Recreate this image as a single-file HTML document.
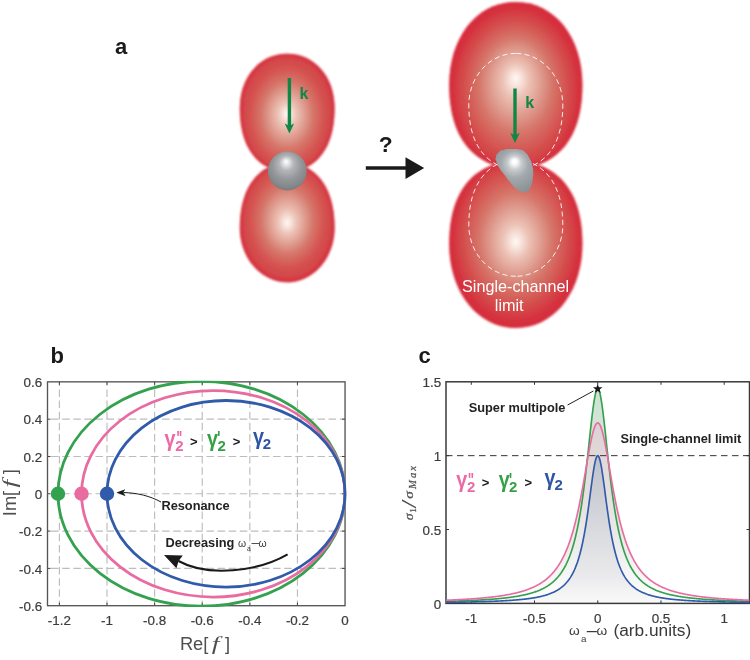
<!DOCTYPE html>
<html><head><meta charset="utf-8"><title>Figure</title>
<style>
html,body{margin:0;padding:0;background:#fff;}
body{width:750px;height:660px;overflow:hidden;font-family:"Liberation Sans",sans-serif;}
svg{display:block;}
text{font-family:"Liberation Sans",sans-serif;}
.b{font-weight:bold;}
.tick{font-size:13.4px;fill:#3c3c3c;stroke:#3c3c3c;stroke-width:0.2px;}
.ser{font-family:"Liberation Serif",serif;}
.gam{font-family:"DejaVu Sans","Liberation Sans",sans-serif;font-weight:bold;}
</style></head><body>
<svg width="750" height="660" viewBox="0 0 750 660">
<defs>
<radialGradient id="gsph" cx="0.5" cy="0.42" r="0.62" fx="0.47" fy="0.25">
<stop offset="0" stop-color="#ffffff"/><stop offset="0.08" stop-color="#eeeff0"/><stop offset="0.3" stop-color="#b4b7b9"/><stop offset="0.6" stop-color="#94979a"/><stop offset="0.85" stop-color="#83878a"/><stop offset="1" stop-color="#74787b"/>
</radialGradient>
<filter id="soft" x="-10%" y="-10%" width="120%" height="120%"><feGaussianBlur stdDeviation="0.8"/></filter>
<filter id="rim" x="-20%" y="-20%" width="140%" height="140%"><feGaussianBlur stdDeviation="1.7"/></filter>
<filter id="rim2" x="-20%" y="-20%" width="140%" height="140%"><feGaussianBlur stdDeviation="2.2"/></filter>
<radialGradient id="gl1" gradientUnits="userSpaceOnUse" cx="287.2" cy="116.2" r="49" fx="287.2" fy="114.51" gradientTransform="translate(0,-34.86) scale(1,1.3)"><stop offset="0" stop-color="#fffaf6"/><stop offset="0.07" stop-color="#f9e6df"/><stop offset="0.19" stop-color="#ecc2b6"/><stop offset="0.375" stop-color="#de9a8d"/><stop offset="0.53" stop-color="#d6766a"/><stop offset="0.76" stop-color="#d4524f"/><stop offset="0.93" stop-color="#d44549"/><stop offset="1" stop-color="#d53a42"/></radialGradient>
<clipPath id="cl1"><path d="M287.2,53.8 C259.94,53.8 239.8,76.84 239.8,108 C239.8,165 275.2,172 287.2,172 C299.2,172 334.6,165 334.6,108 C334.6,76.84 314.45,53.8 287.2,53.8Z"/></clipPath>
<radialGradient id="gl2" gradientUnits="userSpaceOnUse" cx="287.2" cy="218.6" r="49" fx="287.2" fy="221.98" gradientTransform="translate(0,-65.58) scale(1,1.3)"><stop offset="0" stop-color="#fffaf6"/><stop offset="0.07" stop-color="#f9e6df"/><stop offset="0.19" stop-color="#ecc2b6"/><stop offset="0.375" stop-color="#de9a8d"/><stop offset="0.53" stop-color="#d6766a"/><stop offset="0.76" stop-color="#d4524f"/><stop offset="0.93" stop-color="#d44549"/><stop offset="1" stop-color="#d53a42"/></radialGradient>
<clipPath id="cl2"><path d="M287.2,282.3 C261.02,282.3 239.8,257.99 239.8,228 C239.8,166 281.2,162 287.2,162 C293.2,162 334.6,166 334.6,228 C334.6,257.99 313.38,282.3 287.2,282.3Z"/></clipPath>
<radialGradient id="gr1" gradientUnits="userSpaceOnUse" cx="515.8" cy="91.7" r="69" fx="515.8" fy="81.16" gradientTransform="translate(0,-27.51) scale(1,1.3)"><stop offset="0" stop-color="#fffaf6"/><stop offset="0.07" stop-color="#f9e6df"/><stop offset="0.19" stop-color="#ecc2b6"/><stop offset="0.375" stop-color="#de9a8d"/><stop offset="0.53" stop-color="#d6766a"/><stop offset="0.76" stop-color="#d44d4c"/><stop offset="0.91" stop-color="#d5343f"/><stop offset="1" stop-color="#d62c3c"/></radialGradient>
<clipPath id="cr1"><path d="M515.8,2 C476.84,2 449.2,37.28 449.2,85 C449.2,162.5 500.8,169 515.8,169 C530.8,169 582.4,162.5 582.4,85 C582.4,37.28 554.76,2 515.8,2Z"/></clipPath>
<radialGradient id="gr2" gradientUnits="userSpaceOnUse" cx="515.8" cy="238.3" r="69" fx="515.8" fy="241.15" gradientTransform="translate(0,-71.49) scale(1,1.3)"><stop offset="0" stop-color="#fffaf6"/><stop offset="0.07" stop-color="#f9e6df"/><stop offset="0.19" stop-color="#ecc2b6"/><stop offset="0.375" stop-color="#de9a8d"/><stop offset="0.53" stop-color="#d6766a"/><stop offset="0.76" stop-color="#d44d4c"/><stop offset="0.91" stop-color="#d5343f"/><stop offset="1" stop-color="#d62c3c"/></radialGradient>
<clipPath id="cr2"><path d="M515.8,328 C477.5,328 449.2,291.88 449.2,244 C449.2,166.5 500.8,161 515.8,161 C530.8,161 582.4,166.5 582.4,244 C582.4,291.88 554.09,328 515.8,328Z"/></clipPath>
</defs>
<rect width="750" height="660" fill="#fff"/>
<!-- panel a -->
<text x="114.9" y="53.7" class="b" font-size="22" fill="#1a1a1a">a</text>
<g filter="url(#soft)"><path d="M287.2,53.8 C259.94,53.8 239.8,76.84 239.8,108 C239.8,165 275.2,172 287.2,172 C299.2,172 334.6,165 334.6,108 C334.6,76.84 314.45,53.8 287.2,53.8Z" fill="url(#gl1)"/><g clip-path="url(#cl1)"><path d="M287.2,53.8 C259.94,53.8 239.8,76.84 239.8,108 C239.8,165 275.2,172 287.2,172 C299.2,172 334.6,165 334.6,108 C334.6,76.84 314.45,53.8 287.2,53.8Z" fill="none" stroke="#d62c3c" stroke-opacity="0.8" stroke-width="5" filter="url(#rim)"/></g></g>
<g filter="url(#soft)"><path d="M287.2,282.3 C261.02,282.3 239.8,257.99 239.8,228 C239.8,166 281.2,162 287.2,162 C293.2,162 334.6,166 334.6,228 C334.6,257.99 313.38,282.3 287.2,282.3Z" fill="url(#gl2)"/><g clip-path="url(#cl2)"><path d="M287.2,282.3 C261.02,282.3 239.8,257.99 239.8,228 C239.8,166 281.2,162 287.2,162 C293.2,162 334.6,166 334.6,228 C334.6,257.99 313.38,282.3 287.2,282.3Z" fill="none" stroke="#d62c3c" stroke-opacity="0.8" stroke-width="5" filter="url(#rim)"/></g></g>
<circle cx="287.3" cy="171" r="19.4" fill="url(#gsph)"/>
<path d="M289.4,78 L289.4,127.6" stroke="#0f8746" stroke-width="3.4" fill="none"/><path d="M289.4,133.6 L284.7,123.6 L289.4,126 L294.1,123.6 Z" fill="#0f8746"/><text x="299.4" y="98.5" class="b" font-size="16" fill="#0f8746">k</text>
<path d="M365.8,168.1 H407" stroke="#1a1a1a" stroke-width="3.5" fill="none"/><path d="M424.2,168.1 L405.5,157.2 L405.5,179 Z" fill="#1a1a1a"/>
<text x="385.6" y="151.6" class="b" font-size="22.8" text-anchor="middle" fill="#1a1a1a">?</text>
<g filter="url(#soft)"><path d="M515.8,2 C476.84,2 449.2,37.28 449.2,85 C449.2,162.5 500.8,169 515.8,169 C530.8,169 582.4,162.5 582.4,85 C582.4,37.28 554.76,2 515.8,2Z" fill="url(#gr1)"/><g clip-path="url(#cr1)"><path d="M515.8,2 C476.84,2 449.2,37.28 449.2,85 C449.2,162.5 500.8,169 515.8,169 C530.8,169 582.4,162.5 582.4,85 C582.4,37.28 554.76,2 515.8,2Z" fill="none" stroke="#d62c3c" stroke-opacity="0.8" stroke-width="6" filter="url(#rim2)"/></g></g>
<g filter="url(#soft)"><path d="M515.8,328 C477.5,328 449.2,291.88 449.2,244 C449.2,166.5 500.8,161 515.8,161 C530.8,161 582.4,166.5 582.4,244 C582.4,291.88 554.09,328 515.8,328Z" fill="url(#gr2)"/><g clip-path="url(#cr2)"><path d="M515.8,328 C477.5,328 449.2,291.88 449.2,244 C449.2,166.5 500.8,161 515.8,161 C530.8,161 582.4,166.5 582.4,244 C582.4,291.88 554.09,328 515.8,328Z" fill="none" stroke="#d62c3c" stroke-opacity="0.8" stroke-width="6" filter="url(#rim2)"/></g></g>
<path d="M515.8,53.4 C489.84,53.4 468.8,76.5 468.8,105 C468.8,162 503.8,169.3 515.8,169.3 C527.8,169.3 562.8,162 562.8,105 C562.8,76.5 541.76,53.4 515.8,53.4Z" fill="none" stroke="#fff" stroke-opacity="0.92" stroke-width="0.95" stroke-dasharray="5 3.4"/>
<path d="M515.8,276.3 C489.84,276.3 468.8,253.33 468.8,225 C468.8,163 509.8,159.3 515.8,159.3 C521.8,159.3 562.8,163 562.8,225 C562.8,253.33 541.76,276.3 515.8,276.3Z" fill="none" stroke="#fff" stroke-opacity="0.92" stroke-width="0.95" stroke-dasharray="5 3.4"/>
<radialGradient id="gblob" gradientUnits="userSpaceOnUse" cx="515" cy="168" r="30" fx="514.5" fy="161.2"><stop offset="0" stop-color="#ffffff"/><stop offset="0.08" stop-color="#fbfbfb"/><stop offset="0.24" stop-color="#c6cacd"/><stop offset="0.45" stop-color="#a4a9ad"/><stop offset="0.75" stop-color="#92979c"/><stop offset="1" stop-color="#858a8f"/></radialGradient><path d="M495.9,157.3 C496.63,154.13 496.03,154.77 498.6,152.3 C501.17,149.83 499.03,150.97 503.6,149.9 C508.17,148.83 507,149.2 512.3,149.1 C517.6,149 515.27,148.53 519.5,149.6 C523.73,150.67 521.67,149.43 525,152.3 C528.33,155.17 527.07,153.8 529.5,158.2 C531.93,162.6 531.07,160.97 532.3,165.5 C533.53,170.03 533.07,167.27 533.2,171.8 C533.33,176.33 533.47,174.23 532.7,179.1 C531.93,183.97 532.33,182.57 530.9,186.4 C529.47,190.23 530.37,188.63 528.4,190.6 C526.43,192.57 527.4,191.93 525,192.3 C522.6,192.67 524.23,192.93 521.2,191.7 C518.17,190.47 519.47,191.6 515.9,188.6 C512.33,185.6 514.13,187.07 510.5,182.7 C506.87,178.33 508.67,180.33 505,175.5 C501.33,170.67 502.37,172.77 499.5,168.2 C496.63,163.63 497.6,165.43 496.4,161.8 C495.2,158.17 495.17,160.47 495.9,157.3Z" fill="url(#gblob)"/>
<path d="M515,88.5 L515,137" stroke="#0f8746" stroke-width="3.4" fill="none"/><path d="M515,143 L510.3,133 L515,135.4 L519.7,133 Z" fill="#0f8746"/><text x="525.3" y="108.3" class="b" font-size="16" fill="#0f8746">k</text>
<text x="515.6" y="291.7" font-size="16.2" text-anchor="middle" fill="#fff">Single-channel</text>
<text x="509.2" y="310.5" font-size="16.2" text-anchor="middle" fill="#fff">limit</text>
<!-- panel b -->
<text x="50.5" y="362.9" class="b" font-size="22" fill="#1a1a1a">b</text>
<path d="M59.4,605.7 V381.85 M107.01,605.7 V381.85 M154.62,605.7 V381.85 M202.23,605.7 V381.85 M249.83,605.7 V381.85 M297.44,605.7 V381.85 " stroke="#bdbdbd" stroke-width="1.15" stroke-dasharray="7.5 3.6" stroke-dashoffset="2.2" fill="none"/>
<path d="M47.5,568.39 H345.05 M47.5,531.08 H345.05 M47.5,493.78 H345.05 M47.5,456.47 H345.05 M47.5,419.16 H345.05 " stroke="#bdbdbd" stroke-width="1.15" stroke-dasharray="7.5 3.6" stroke-dashoffset="7.5" fill="none"/>
<path d="M59.4,605.7 v-3 M59.4,381.85 v3 M107.01,605.7 v-3 M107.01,381.85 v3 M154.62,605.7 v-3 M154.62,381.85 v3 M202.23,605.7 v-3 M202.23,381.85 v3 M249.83,605.7 v-3 M249.83,381.85 v3 M297.44,605.7 v-3 M297.44,381.85 v3 M47.5,568.39 h3 M345.05,568.39 h-3 M47.5,531.08 h3 M345.05,531.08 h-3 M47.5,493.78 h3 M345.05,493.78 h-3 M47.5,456.47 h3 M345.05,456.47 h-3 M47.5,419.16 h3 M345.05,419.16 h-3 " stroke="#404040" stroke-width="1" fill="none"/>
<rect x="47.5" y="381.85" width="297.55" height="223.85" fill="none" stroke="#555" stroke-width="1.35"/>
<clipPath id="cb"><rect x="39.5" y="380.65" width="307.05" height="226.25"/></clipPath>
<g clip-path="url(#cb)" fill="none" stroke-width="2.8"><ellipse cx="201.51" cy="493.78" rx="143.54" ry="112.48" stroke="#33a14e"/><ellipse cx="213.29" cy="493.78" rx="131.76" ry="103.25" stroke="#e96ca1"/><ellipse cx="226.03" cy="493.78" rx="119.02" ry="93.27" stroke="#305aaa"/></g>
<circle cx="57.97" cy="493.78" r="7.2" fill="#33a14e"/><circle cx="81.54" cy="493.78" r="7.2" fill="#e96ca1"/><circle cx="107.01" cy="493.78" r="7.2" fill="#305aaa"/>
<text x="59.4" y="624.8" class="tick" text-anchor="middle">-1.2</text><text x="107.01" y="624.8" class="tick" text-anchor="middle">-1</text><text x="154.62" y="624.8" class="tick" text-anchor="middle">-0.8</text><text x="202.23" y="624.8" class="tick" text-anchor="middle">-0.6</text><text x="249.83" y="624.8" class="tick" text-anchor="middle">-0.4</text><text x="297.44" y="624.8" class="tick" text-anchor="middle">-0.2</text><text x="345.05" y="624.8" class="tick" text-anchor="middle">0</text><text x="42.2" y="387.05" class="tick" text-anchor="end">0.6</text><text x="42.2" y="424.36" class="tick" text-anchor="end">0.4</text><text x="42.2" y="461.67" class="tick" text-anchor="end">0.2</text><text x="42.2" y="498.98" class="tick" text-anchor="end">0</text><text x="42.2" y="536.28" class="tick" text-anchor="end">-0.2</text><text x="42.2" y="573.59" class="tick" text-anchor="end">-0.4</text><text x="42.2" y="610.9" class="tick" text-anchor="end">-0.6</text>
<g transform="translate(179.9,650.4)"><text x="0" y="0" font-size="18.3" fill="#4f4f4f">Re[</text><text transform="translate(31.79,0) scale(1.45,1)" class="ser" font-style="italic" font-size="19" fill="#4f4f4f">f</text><text x="45.09" y="0" font-size="18.3" fill="#4f4f4f">]</text></g>
<g transform="translate(16.4,516.2) rotate(-90)"><text x="0" y="0" font-size="18.3" fill="#4f4f4f">Im[</text><text transform="translate(28.73,0) scale(1.45,1)" class="ser" font-style="italic" font-size="19" fill="#4f4f4f">f</text><text x="42.03" y="0" font-size="18.3" fill="#4f4f4f">]</text></g>
<g transform="translate(0,0)"><text transform="translate(164.6,445.9) scale(0.9,1)" class="b" font-size="22" fill="#ea6aa5">γ</text><text x="175.2" y="450.9" class="b" font-size="15" fill="#ea6aa5">2</text><text transform="translate(176.4,445.4) scale(1,1.5)" class="b" font-size="13" letter-spacing="-0.4" fill="#ea6aa5">''</text><text x="190" y="445.5" class="b" font-size="13" fill="#1a1a1a">&gt;</text><text transform="translate(207,445.9) scale(0.9,1)" class="b" font-size="22" fill="#36a046">γ</text><text x="217.4" y="450.9" class="b" font-size="15" fill="#36a046">2</text><text transform="translate(217.3,445.4) scale(1,1.5)" class="b" font-size="13" letter-spacing="-0.4" fill="#36a046">'</text><text x="232.7" y="445.5" class="b" font-size="13" fill="#1a1a1a">&gt;</text><text transform="translate(252.9,444.2) scale(0.9,1)" class="b" font-size="22" fill="#2f55a4">γ</text><text x="262.8" y="449.3" class="b" font-size="15" fill="#2f55a4">2</text></g>
<path d="M123.5,492.5 C138,493 150,496 161,502" stroke="#1a1a1a" stroke-width="1" fill="none"/><path d="M116.4,492.5 L125.3,489.2 L123.2,492.5 L125.6,496.2 Z" fill="#1a1a1a"/>
<text x="161.4" y="510" class="b" font-size="12.8" fill="#222">Resonance</text>
<text x="165.4" y="547.3" class="b" font-size="12.8" fill="#222">Decreasing</text><text x="238.1" y="547.3" font-family="DejaVu Serif,Liberation Serif,serif" font-size="10.4" fill="#3a3a3a">ω</text><text x="247" y="551.2" font-size="6.8" fill="#3a3a3a">a</text><text x="251.4" y="547.2" font-size="13.4" fill="#3a3a3a">–</text><text x="258.6" y="547.3" font-family="DejaVu Serif,Liberation Serif,serif" font-size="10.4" fill="#3a3a3a">ω</text>
<path d="M287.6,554.4 C258,571.5 208,577.5 178.5,561" stroke="#1a1a1a" stroke-width="2.15" fill="none"/><path d="M164,555 L182.8,555.4 L178.6,561 L176.4,568.2 Z" fill="#1a1a1a"/>
<!-- panel c -->
<text x="418.6" y="362.8" class="b" font-size="22" fill="#1a1a1a">c</text>
<linearGradient id="fb" gradientUnits="userSpaceOnUse" x1="0" y1="455" x2="0" y2="603"><stop offset="0" stop-color="#bec1ca"/><stop offset="0.25" stop-color="#cccdd4"/><stop offset="0.5" stop-color="#d9dade"/><stop offset="0.8" stop-color="#e9e9eb"/><stop offset="1" stop-color="#f9f9f9"/></linearGradient>
<linearGradient id="fp" gradientUnits="userSpaceOnUse" x1="0" y1="420" x2="0" y2="603"><stop offset="0" stop-color="#dcd1d2"/><stop offset="0.35" stop-color="#e4dede"/><stop offset="0.7" stop-color="#eeecec"/><stop offset="0.92" stop-color="#fbfbfb"/><stop offset="1" stop-color="#ffffff"/></linearGradient>
<linearGradient id="fg" gradientUnits="userSpaceOnUse" x1="0" y1="388" x2="0" y2="603"><stop offset="0" stop-color="#cde2d2"/><stop offset="0.35" stop-color="#dbe7dd"/><stop offset="0.7" stop-color="#f0f0f0"/><stop offset="0.93" stop-color="#fcfcfc"/><stop offset="1" stop-color="#ffffff"/></linearGradient>
<clipPath id="cc"><rect x="446" y="381.8" width="303.5" height="221.6"/></clipPath>
<g clip-path="url(#cc)"><polygon points="446,603.4 446,601.35 446.63,601.33 447.26,601.31 447.9,601.29 448.53,601.28 449.16,601.26 449.79,601.24 450.43,601.22 451.06,601.2 451.69,601.18 452.32,601.17 452.96,601.15 453.59,601.13 454.22,601.11 454.85,601.09 455.48,601.07 456.12,601.05 456.75,601.02 457.38,601 458.01,600.98 458.65,600.96 459.28,600.94 459.91,600.92 460.54,600.89 461.17,600.87 461.81,600.85 462.44,600.82 463.07,600.8 463.7,600.77 464.34,600.75 464.97,600.72 465.6,600.7 466.23,600.67 466.87,600.65 467.5,600.62 468.13,600.59 468.76,600.57 469.39,600.54 470.03,600.51 470.66,600.48 471.29,600.45 471.92,600.42 472.56,600.4 473.19,600.37 473.82,600.33 474.45,600.3 475.09,600.27 475.72,600.24 476.35,600.21 476.98,600.17 477.61,600.14 478.25,600.11 478.88,600.07 479.51,600.04 480.14,600 480.78,599.97 481.41,599.93 482.04,599.89 482.67,599.85 483.31,599.81 483.94,599.77 484.57,599.73 485.2,599.69 485.83,599.65 486.47,599.61 487.1,599.57 487.73,599.53 488.36,599.48 489,599.44 489.63,599.39 490.26,599.34 490.89,599.3 491.52,599.25 492.16,599.2 492.79,599.15 493.42,599.1 494.05,599.05 494.69,599 495.32,598.94 495.95,598.89 496.58,598.83 497.22,598.78 497.85,598.72 498.48,598.66 499.11,598.6 499.74,598.54 500.38,598.48 501.01,598.41 501.64,598.35 502.27,598.29 502.91,598.22 503.54,598.15 504.17,598.08 504.8,598.01 505.44,597.94 506.07,597.86 506.7,597.79 507.33,597.71 507.96,597.63 508.6,597.55 509.23,597.47 509.86,597.39 510.49,597.3 511.13,597.22 511.76,597.13 512.39,597.04 513.02,596.95 513.66,596.85 514.29,596.76 514.92,596.66 515.55,596.56 516.18,596.45 516.82,596.35 517.45,596.24 518.08,596.13 518.71,596.02 519.35,595.9 519.98,595.78 520.61,595.66 521.24,595.54 521.88,595.41 522.51,595.28 523.14,595.15 523.77,595.01 524.4,594.87 525.04,594.73 525.67,594.58 526.3,594.43 526.93,594.28 527.57,594.12 528.2,593.96 528.83,593.79 529.46,593.62 530.09,593.45 530.73,593.27 531.36,593.08 531.99,592.9 532.62,592.7 533.26,592.5 533.89,592.29 534.52,592.08 535.15,591.87 535.79,591.64 536.42,591.41 537.05,591.18 537.68,590.93 538.31,590.68 538.95,590.42 539.58,590.16 540.21,589.88 540.84,589.6 541.48,589.31 542.11,589.01 542.74,588.7 543.37,588.38 544.01,588.05 544.64,587.71 545.27,587.35 545.9,586.99 546.53,586.62 547.17,586.23 547.8,585.83 548.43,585.41 549.06,584.98 549.7,584.53 550.33,584.07 550.96,583.6 551.59,583.1 552.23,582.59 552.86,582.06 553.49,581.51 554.12,580.93 554.75,580.34 555.39,579.72 556.02,579.08 556.65,578.42 557.28,577.72 557.92,577 558.55,576.25 559.18,575.47 559.81,574.66 560.44,573.81 561.08,572.93 561.71,572.01 562.34,571.05 562.97,570.05 563.61,569 564.24,567.91 564.87,566.76 565.5,565.57 566.14,564.32 566.77,563.01 567.4,561.64 568.03,560.21 568.66,558.7 569.3,557.13 569.93,555.48 570.56,553.74 571.19,551.92 571.83,550.02 572.46,548.01 573.09,545.9 573.72,543.69 574.36,541.37 574.99,538.92 575.62,536.35 576.25,533.65 576.88,530.81 577.52,527.83 578.15,524.69 578.78,521.4 579.41,517.94 580.05,514.31 580.68,510.49 581.31,506.5 581.94,502.32 582.58,497.95 583.21,493.38 583.84,488.63 584.47,483.68 585.1,478.55 585.74,473.25 586.37,467.78 587,462.17 587.63,456.44 588.27,450.61 588.9,444.73 589.53,438.83 590.16,432.96 590.79,427.18 591.43,421.54 592.06,416.13 592.69,411 593.32,406.24 593.96,401.91 594.59,398.11 595.22,394.88 595.85,392.3 596.49,390.42 597.12,389.28 597.75,388.89 598.38,389.28 599.01,390.42 599.65,392.3 600.28,394.88 600.91,398.11 601.54,401.91 602.18,406.24 602.81,411 603.44,416.13 604.07,421.54 604.71,427.18 605.34,432.96 605.97,438.83 606.6,444.73 607.23,450.61 607.87,456.44 608.5,462.17 609.13,467.78 609.76,473.25 610.4,478.55 611.03,483.68 611.66,488.63 612.29,493.38 612.93,497.95 613.56,502.32 614.19,506.5 614.82,510.49 615.45,514.31 616.09,517.94 616.72,521.4 617.35,524.69 617.98,527.83 618.62,530.81 619.25,533.65 619.88,536.35 620.51,538.92 621.14,541.37 621.78,543.69 622.41,545.9 623.04,548.01 623.67,550.02 624.31,551.92 624.94,553.74 625.57,555.48 626.2,557.13 626.84,558.7 627.47,560.21 628.1,561.64 628.73,563.01 629.36,564.32 630,565.57 630.63,566.76 631.26,567.91 631.89,569 632.53,570.05 633.16,571.05 633.79,572.01 634.42,572.93 635.06,573.81 635.69,574.66 636.32,575.47 636.95,576.25 637.58,577 638.22,577.72 638.85,578.42 639.48,579.08 640.11,579.72 640.75,580.34 641.38,580.93 642.01,581.51 642.64,582.06 643.27,582.59 643.91,583.1 644.54,583.6 645.17,584.07 645.8,584.53 646.44,584.98 647.07,585.41 647.7,585.83 648.33,586.23 648.97,586.62 649.6,586.99 650.23,587.35 650.86,587.71 651.49,588.05 652.13,588.38 652.76,588.7 653.39,589.01 654.02,589.31 654.66,589.6 655.29,589.88 655.92,590.16 656.55,590.42 657.19,590.68 657.82,590.93 658.45,591.18 659.08,591.41 659.71,591.64 660.35,591.87 660.98,592.08 661.61,592.29 662.24,592.5 662.88,592.7 663.51,592.9 664.14,593.08 664.77,593.27 665.41,593.45 666.04,593.62 666.67,593.79 667.3,593.96 667.93,594.12 668.57,594.28 669.2,594.43 669.83,594.58 670.46,594.73 671.1,594.87 671.73,595.01 672.36,595.15 672.99,595.28 673.62,595.41 674.26,595.54 674.89,595.66 675.52,595.78 676.15,595.9 676.79,596.02 677.42,596.13 678.05,596.24 678.68,596.35 679.32,596.45 679.95,596.56 680.58,596.66 681.21,596.76 681.84,596.85 682.48,596.95 683.11,597.04 683.74,597.13 684.37,597.22 685.01,597.3 685.64,597.39 686.27,597.47 686.9,597.55 687.54,597.63 688.17,597.71 688.8,597.79 689.43,597.86 690.06,597.94 690.7,598.01 691.33,598.08 691.96,598.15 692.59,598.22 693.23,598.29 693.86,598.35 694.49,598.41 695.12,598.48 695.76,598.54 696.39,598.6 697.02,598.66 697.65,598.72 698.28,598.78 698.92,598.83 699.55,598.89 700.18,598.94 700.81,599 701.45,599.05 702.08,599.1 702.71,599.15 703.34,599.2 703.98,599.25 704.61,599.3 705.24,599.34 705.87,599.39 706.5,599.44 707.14,599.48 707.77,599.53 708.4,599.57 709.03,599.61 709.67,599.65 710.3,599.69 710.93,599.73 711.56,599.77 712.19,599.81 712.83,599.85 713.46,599.89 714.09,599.93 714.72,599.97 715.36,600 715.99,600.04 716.62,600.07 717.25,600.11 717.89,600.14 718.52,600.17 719.15,600.21 719.78,600.24 720.41,600.27 721.05,600.3 721.68,600.33 722.31,600.37 722.94,600.4 723.58,600.42 724.21,600.45 724.84,600.48 725.47,600.51 726.11,600.54 726.74,600.57 727.37,600.59 728,600.62 728.63,600.65 729.27,600.67 729.9,600.7 730.53,600.72 731.16,600.75 731.8,600.77 732.43,600.8 733.06,600.82 733.69,600.85 734.33,600.87 734.96,600.89 735.59,600.92 736.22,600.94 736.85,600.96 737.49,600.98 738.12,601 738.75,601.02 739.38,601.05 740.02,601.07 740.65,601.09 741.28,601.11 741.91,601.13 742.54,601.15 743.18,601.17 743.81,601.18 744.44,601.2 745.07,601.22 745.71,601.24 746.34,601.26 746.97,601.28 747.6,601.29 748.24,601.31 748.87,601.33 749.5,601.35 749.5,603.4" fill="url(#fg)"/><polygon points="446,603.4 446,600.25 446.63,600.22 447.26,600.19 447.9,600.17 448.53,600.14 449.16,600.11 449.79,600.09 450.43,600.06 451.06,600.03 451.69,600 452.32,599.97 452.96,599.94 453.59,599.91 454.22,599.88 454.85,599.85 455.48,599.82 456.12,599.79 456.75,599.76 457.38,599.73 458.01,599.69 458.65,599.66 459.28,599.63 459.91,599.59 460.54,599.56 461.17,599.52 461.81,599.49 462.44,599.45 463.07,599.42 463.7,599.38 464.34,599.34 464.97,599.3 465.6,599.26 466.23,599.23 466.87,599.19 467.5,599.15 468.13,599.11 468.76,599.06 469.39,599.02 470.03,598.98 470.66,598.94 471.29,598.89 471.92,598.85 472.56,598.8 473.19,598.76 473.82,598.71 474.45,598.67 475.09,598.62 475.72,598.57 476.35,598.52 476.98,598.47 477.61,598.42 478.25,598.37 478.88,598.32 479.51,598.26 480.14,598.21 480.78,598.16 481.41,598.1 482.04,598.04 482.67,597.99 483.31,597.93 483.94,597.87 484.57,597.81 485.2,597.75 485.83,597.69 486.47,597.62 487.1,597.56 487.73,597.49 488.36,597.43 489,597.36 489.63,597.29 490.26,597.22 490.89,597.15 491.52,597.08 492.16,597.01 492.79,596.93 493.42,596.86 494.05,596.78 494.69,596.7 495.32,596.62 495.95,596.54 496.58,596.46 497.22,596.37 497.85,596.29 498.48,596.2 499.11,596.11 499.74,596.02 500.38,595.93 501.01,595.83 501.64,595.74 502.27,595.64 502.91,595.54 503.54,595.44 504.17,595.34 504.8,595.23 505.44,595.13 506.07,595.02 506.7,594.9 507.33,594.79 507.96,594.68 508.6,594.56 509.23,594.44 509.86,594.31 510.49,594.19 511.13,594.06 511.76,593.93 512.39,593.8 513.02,593.66 513.66,593.52 514.29,593.38 514.92,593.23 515.55,593.09 516.18,592.94 516.82,592.78 517.45,592.62 518.08,592.46 518.71,592.3 519.35,592.13 519.98,591.96 520.61,591.78 521.24,591.6 521.88,591.41 522.51,591.23 523.14,591.03 523.77,590.84 524.4,590.63 525.04,590.43 525.67,590.21 526.3,590 526.93,589.78 527.57,589.55 528.2,589.31 528.83,589.08 529.46,588.83 530.09,588.58 530.73,588.32 531.36,588.06 531.99,587.79 532.62,587.51 533.26,587.22 533.89,586.93 534.52,586.63 535.15,586.32 535.79,586.01 536.42,585.68 537.05,585.35 537.68,585 538.31,584.65 538.95,584.29 539.58,583.92 540.21,583.53 540.84,583.14 541.48,582.73 542.11,582.32 542.74,581.89 543.37,581.44 544.01,580.99 544.64,580.52 545.27,580.04 545.9,579.54 546.53,579.03 547.17,578.5 547.8,577.95 548.43,577.39 549.06,576.81 549.7,576.21 550.33,575.6 550.96,574.96 551.59,574.3 552.23,573.62 552.86,572.92 553.49,572.19 554.12,571.44 554.75,570.67 555.39,569.87 556.02,569.04 556.65,568.18 557.28,567.29 557.92,566.38 558.55,565.42 559.18,564.44 559.81,563.42 560.44,562.36 561.08,561.27 561.71,560.14 562.34,558.96 562.97,557.74 563.61,556.48 564.24,555.17 564.87,553.81 565.5,552.4 566.14,550.94 566.77,549.43 567.4,547.85 568.03,546.22 568.66,544.53 569.3,542.77 569.93,540.95 570.56,539.06 571.19,537.09 571.83,535.06 572.46,532.95 573.09,530.76 573.72,528.5 574.36,526.15 574.99,523.72 575.62,521.2 576.25,518.6 576.88,515.91 577.52,513.13 578.15,510.27 578.78,507.32 579.41,504.28 580.05,501.15 580.68,497.94 581.31,494.66 581.94,491.29 582.58,487.86 583.21,484.36 583.84,480.81 584.47,477.21 585.1,473.58 585.74,469.93 586.37,466.26 587,462.61 587.63,458.98 588.27,455.39 588.9,451.87 589.53,448.44 590.16,445.13 590.79,441.95 591.43,438.93 592.06,436.1 592.69,433.49 593.32,431.11 593.96,429 594.59,427.17 595.22,425.65 595.85,424.44 596.49,423.57 597.12,423.05 597.75,422.87 598.38,423.05 599.01,423.57 599.65,424.44 600.28,425.65 600.91,427.17 601.54,429 602.18,431.11 602.81,433.49 603.44,436.1 604.07,438.93 604.71,441.95 605.34,445.13 605.97,448.44 606.6,451.87 607.23,455.39 607.87,458.98 608.5,462.61 609.13,466.26 609.76,469.93 610.4,473.58 611.03,477.21 611.66,480.81 612.29,484.36 612.93,487.86 613.56,491.29 614.19,494.66 614.82,497.94 615.45,501.15 616.09,504.28 616.72,507.32 617.35,510.27 617.98,513.13 618.62,515.91 619.25,518.6 619.88,521.2 620.51,523.72 621.14,526.15 621.78,528.5 622.41,530.76 623.04,532.95 623.67,535.06 624.31,537.09 624.94,539.06 625.57,540.95 626.2,542.77 626.84,544.53 627.47,546.22 628.1,547.85 628.73,549.43 629.36,550.94 630,552.4 630.63,553.81 631.26,555.17 631.89,556.48 632.53,557.74 633.16,558.96 633.79,560.14 634.42,561.27 635.06,562.36 635.69,563.42 636.32,564.44 636.95,565.42 637.58,566.38 638.22,567.29 638.85,568.18 639.48,569.04 640.11,569.87 640.75,570.67 641.38,571.44 642.01,572.19 642.64,572.92 643.27,573.62 643.91,574.3 644.54,574.96 645.17,575.6 645.8,576.21 646.44,576.81 647.07,577.39 647.7,577.95 648.33,578.5 648.97,579.03 649.6,579.54 650.23,580.04 650.86,580.52 651.49,580.99 652.13,581.44 652.76,581.89 653.39,582.32 654.02,582.73 654.66,583.14 655.29,583.53 655.92,583.92 656.55,584.29 657.19,584.65 657.82,585 658.45,585.35 659.08,585.68 659.71,586.01 660.35,586.32 660.98,586.63 661.61,586.93 662.24,587.22 662.88,587.51 663.51,587.79 664.14,588.06 664.77,588.32 665.41,588.58 666.04,588.83 666.67,589.08 667.3,589.31 667.93,589.55 668.57,589.78 669.2,590 669.83,590.21 670.46,590.43 671.1,590.63 671.73,590.84 672.36,591.03 672.99,591.23 673.62,591.41 674.26,591.6 674.89,591.78 675.52,591.96 676.15,592.13 676.79,592.3 677.42,592.46 678.05,592.62 678.68,592.78 679.32,592.94 679.95,593.09 680.58,593.23 681.21,593.38 681.84,593.52 682.48,593.66 683.11,593.8 683.74,593.93 684.37,594.06 685.01,594.19 685.64,594.31 686.27,594.44 686.9,594.56 687.54,594.68 688.17,594.79 688.8,594.9 689.43,595.02 690.06,595.13 690.7,595.23 691.33,595.34 691.96,595.44 692.59,595.54 693.23,595.64 693.86,595.74 694.49,595.83 695.12,595.93 695.76,596.02 696.39,596.11 697.02,596.2 697.65,596.29 698.28,596.37 698.92,596.46 699.55,596.54 700.18,596.62 700.81,596.7 701.45,596.78 702.08,596.86 702.71,596.93 703.34,597.01 703.98,597.08 704.61,597.15 705.24,597.22 705.87,597.29 706.5,597.36 707.14,597.43 707.77,597.49 708.4,597.56 709.03,597.62 709.67,597.69 710.3,597.75 710.93,597.81 711.56,597.87 712.19,597.93 712.83,597.99 713.46,598.04 714.09,598.1 714.72,598.16 715.36,598.21 715.99,598.26 716.62,598.32 717.25,598.37 717.89,598.42 718.52,598.47 719.15,598.52 719.78,598.57 720.41,598.62 721.05,598.67 721.68,598.71 722.31,598.76 722.94,598.8 723.58,598.85 724.21,598.89 724.84,598.94 725.47,598.98 726.11,599.02 726.74,599.06 727.37,599.11 728,599.15 728.63,599.19 729.27,599.23 729.9,599.26 730.53,599.3 731.16,599.34 731.8,599.38 732.43,599.42 733.06,599.45 733.69,599.49 734.33,599.52 734.96,599.56 735.59,599.59 736.22,599.63 736.85,599.66 737.49,599.69 738.12,599.73 738.75,599.76 739.38,599.79 740.02,599.82 740.65,599.85 741.28,599.88 741.91,599.91 742.54,599.94 743.18,599.97 743.81,600 744.44,600.03 745.07,600.06 745.71,600.09 746.34,600.11 746.97,600.14 747.6,600.17 748.24,600.19 748.87,600.22 749.5,600.25 749.5,603.4" fill="url(#fp)"/><polygon points="446,603.4 446,602.38 446.63,602.37 447.26,602.36 447.9,602.36 448.53,602.35 449.16,602.34 449.79,602.33 450.43,602.32 451.06,602.31 451.69,602.3 452.32,602.29 452.96,602.28 453.59,602.27 454.22,602.26 454.85,602.25 455.48,602.24 456.12,602.23 456.75,602.22 457.38,602.21 458.01,602.2 458.65,602.19 459.28,602.18 459.91,602.17 460.54,602.16 461.17,602.14 461.81,602.13 462.44,602.12 463.07,602.11 463.7,602.1 464.34,602.08 464.97,602.07 465.6,602.06 466.23,602.05 466.87,602.03 467.5,602.02 468.13,602.01 468.76,601.99 469.39,601.98 470.03,601.97 470.66,601.95 471.29,601.94 471.92,601.92 472.56,601.91 473.19,601.89 473.82,601.88 474.45,601.86 475.09,601.85 475.72,601.83 476.35,601.81 476.98,601.8 477.61,601.78 478.25,601.76 478.88,601.75 479.51,601.73 480.14,601.71 480.78,601.69 481.41,601.67 482.04,601.66 482.67,601.64 483.31,601.62 483.94,601.6 484.57,601.58 485.2,601.56 485.83,601.54 486.47,601.52 487.1,601.5 487.73,601.47 488.36,601.45 489,601.43 489.63,601.41 490.26,601.38 490.89,601.36 491.52,601.34 492.16,601.31 492.79,601.29 493.42,601.26 494.05,601.24 494.69,601.21 495.32,601.18 495.95,601.15 496.58,601.13 497.22,601.1 497.85,601.07 498.48,601.04 499.11,601.01 499.74,600.98 500.38,600.95 501.01,600.92 501.64,600.89 502.27,600.85 502.91,600.82 503.54,600.79 504.17,600.75 504.8,600.72 505.44,600.68 506.07,600.64 506.7,600.6 507.33,600.57 507.96,600.53 508.6,600.49 509.23,600.45 509.86,600.4 510.49,600.36 511.13,600.32 511.76,600.27 512.39,600.23 513.02,600.18 513.66,600.13 514.29,600.08 514.92,600.03 515.55,599.98 516.18,599.93 516.82,599.88 517.45,599.82 518.08,599.77 518.71,599.71 519.35,599.65 519.98,599.59 520.61,599.53 521.24,599.47 521.88,599.41 522.51,599.34 523.14,599.27 523.77,599.21 524.4,599.14 525.04,599.06 525.67,598.99 526.3,598.91 526.93,598.83 527.57,598.75 528.2,598.67 528.83,598.59 529.46,598.5 530.09,598.41 530.73,598.32 531.36,598.23 531.99,598.13 532.62,598.03 533.26,597.93 533.89,597.83 534.52,597.72 535.15,597.61 535.79,597.49 536.42,597.38 537.05,597.25 537.68,597.13 538.31,597 538.95,596.87 539.58,596.73 540.21,596.59 540.84,596.45 541.48,596.3 542.11,596.14 542.74,595.98 543.37,595.82 544.01,595.65 544.64,595.47 545.27,595.29 545.9,595.11 546.53,594.91 547.17,594.71 547.8,594.5 548.43,594.29 549.06,594.06 549.7,593.83 550.33,593.59 550.96,593.34 551.59,593.09 552.23,592.82 552.86,592.54 553.49,592.25 554.12,591.95 554.75,591.64 555.39,591.31 556.02,590.97 556.65,590.62 557.28,590.26 557.92,589.87 558.55,589.48 559.18,589.06 559.81,588.63 560.44,588.17 561.08,587.7 561.71,587.21 562.34,586.69 562.97,586.15 563.61,585.58 564.24,584.99 564.87,584.36 565.5,583.71 566.14,583.02 566.77,582.3 567.4,581.55 568.03,580.75 568.66,579.91 569.3,579.03 569.93,578.1 570.56,577.12 571.19,576.09 571.83,575 572.46,573.85 573.09,572.64 573.72,571.35 574.36,570 574.99,568.56 575.62,567.03 576.25,565.42 576.88,563.71 577.52,561.9 578.15,559.98 578.78,557.94 579.41,555.78 580.05,553.49 580.68,551.06 581.31,548.48 581.94,545.75 582.58,542.85 583.21,539.79 583.84,536.55 584.47,533.13 585.1,529.53 585.74,525.75 586.37,521.78 587,517.63 587.63,513.32 588.27,508.85 588.9,504.25 589.53,499.55 590.16,494.77 590.79,489.98 591.43,485.21 592.06,480.54 592.69,476.04 593.32,471.79 593.96,467.86 594.59,464.36 595.22,461.35 595.85,458.92 596.49,457.13 597.12,456.04 597.75,455.67 598.38,456.04 599.01,457.13 599.65,458.92 600.28,461.35 600.91,464.36 601.54,467.86 602.18,471.79 602.81,476.04 603.44,480.54 604.07,485.21 604.71,489.98 605.34,494.77 605.97,499.55 606.6,504.25 607.23,508.85 607.87,513.32 608.5,517.63 609.13,521.78 609.76,525.75 610.4,529.53 611.03,533.13 611.66,536.55 612.29,539.79 612.93,542.85 613.56,545.75 614.19,548.48 614.82,551.06 615.45,553.49 616.09,555.78 616.72,557.94 617.35,559.98 617.98,561.9 618.62,563.71 619.25,565.42 619.88,567.03 620.51,568.56 621.14,570 621.78,571.35 622.41,572.64 623.04,573.85 623.67,575 624.31,576.09 624.94,577.12 625.57,578.1 626.2,579.03 626.84,579.91 627.47,580.75 628.1,581.55 628.73,582.3 629.36,583.02 630,583.71 630.63,584.36 631.26,584.99 631.89,585.58 632.53,586.15 633.16,586.69 633.79,587.21 634.42,587.7 635.06,588.17 635.69,588.63 636.32,589.06 636.95,589.48 637.58,589.87 638.22,590.26 638.85,590.62 639.48,590.97 640.11,591.31 640.75,591.64 641.38,591.95 642.01,592.25 642.64,592.54 643.27,592.82 643.91,593.09 644.54,593.34 645.17,593.59 645.8,593.83 646.44,594.06 647.07,594.29 647.7,594.5 648.33,594.71 648.97,594.91 649.6,595.11 650.23,595.29 650.86,595.47 651.49,595.65 652.13,595.82 652.76,595.98 653.39,596.14 654.02,596.3 654.66,596.45 655.29,596.59 655.92,596.73 656.55,596.87 657.19,597 657.82,597.13 658.45,597.25 659.08,597.38 659.71,597.49 660.35,597.61 660.98,597.72 661.61,597.83 662.24,597.93 662.88,598.03 663.51,598.13 664.14,598.23 664.77,598.32 665.41,598.41 666.04,598.5 666.67,598.59 667.3,598.67 667.93,598.75 668.57,598.83 669.2,598.91 669.83,598.99 670.46,599.06 671.1,599.14 671.73,599.21 672.36,599.27 672.99,599.34 673.62,599.41 674.26,599.47 674.89,599.53 675.52,599.59 676.15,599.65 676.79,599.71 677.42,599.77 678.05,599.82 678.68,599.88 679.32,599.93 679.95,599.98 680.58,600.03 681.21,600.08 681.84,600.13 682.48,600.18 683.11,600.23 683.74,600.27 684.37,600.32 685.01,600.36 685.64,600.4 686.27,600.45 686.9,600.49 687.54,600.53 688.17,600.57 688.8,600.6 689.43,600.64 690.06,600.68 690.7,600.72 691.33,600.75 691.96,600.79 692.59,600.82 693.23,600.85 693.86,600.89 694.49,600.92 695.12,600.95 695.76,600.98 696.39,601.01 697.02,601.04 697.65,601.07 698.28,601.1 698.92,601.13 699.55,601.15 700.18,601.18 700.81,601.21 701.45,601.24 702.08,601.26 702.71,601.29 703.34,601.31 703.98,601.34 704.61,601.36 705.24,601.38 705.87,601.41 706.5,601.43 707.14,601.45 707.77,601.47 708.4,601.5 709.03,601.52 709.67,601.54 710.3,601.56 710.93,601.58 711.56,601.6 712.19,601.62 712.83,601.64 713.46,601.66 714.09,601.67 714.72,601.69 715.36,601.71 715.99,601.73 716.62,601.75 717.25,601.76 717.89,601.78 718.52,601.8 719.15,601.81 719.78,601.83 720.41,601.85 721.05,601.86 721.68,601.88 722.31,601.89 722.94,601.91 723.58,601.92 724.21,601.94 724.84,601.95 725.47,601.97 726.11,601.98 726.74,601.99 727.37,602.01 728,602.02 728.63,602.03 729.27,602.05 729.9,602.06 730.53,602.07 731.16,602.08 731.8,602.1 732.43,602.11 733.06,602.12 733.69,602.13 734.33,602.14 734.96,602.16 735.59,602.17 736.22,602.18 736.85,602.19 737.49,602.2 738.12,602.21 738.75,602.22 739.38,602.23 740.02,602.24 740.65,602.25 741.28,602.26 741.91,602.27 742.54,602.28 743.18,602.29 743.81,602.3 744.44,602.31 745.07,602.32 745.71,602.33 746.34,602.34 746.97,602.35 747.6,602.36 748.24,602.36 748.87,602.37 749.5,602.38 749.5,603.4" fill="url(#fb)"/></g>
<path d="M446,455.67 H749.5" stroke="#333" stroke-width="1" stroke-dasharray="6.5 4.5" fill="none"/>
<path d="M471.29,603.4 v-3 M471.29,381.8 v3 M534.52,603.4 v-3 M534.52,381.8 v3 M597.75,603.4 v-3 M597.75,381.8 v3 M660.98,603.4 v-3 M660.98,381.8 v3 M724.21,603.4 v-3 M724.21,381.8 v3 M446,529.53 h3 M749.5,529.53 h-3 M446,455.67 h3 M749.5,455.67 h-3 " stroke="#333" stroke-width="1" fill="none"/>
<rect x="446" y="381.8" width="303.5" height="221.6" fill="none" stroke="#3a3a3a" stroke-width="1.5"/>
<g clip-path="url(#cc)" fill="none" stroke-width="1.65" stroke-linejoin="round"><polyline points="446,601.35 446.63,601.33 447.26,601.31 447.9,601.29 448.53,601.28 449.16,601.26 449.79,601.24 450.43,601.22 451.06,601.2 451.69,601.18 452.32,601.17 452.96,601.15 453.59,601.13 454.22,601.11 454.85,601.09 455.48,601.07 456.12,601.05 456.75,601.02 457.38,601 458.01,600.98 458.65,600.96 459.28,600.94 459.91,600.92 460.54,600.89 461.17,600.87 461.81,600.85 462.44,600.82 463.07,600.8 463.7,600.77 464.34,600.75 464.97,600.72 465.6,600.7 466.23,600.67 466.87,600.65 467.5,600.62 468.13,600.59 468.76,600.57 469.39,600.54 470.03,600.51 470.66,600.48 471.29,600.45 471.92,600.42 472.56,600.4 473.19,600.37 473.82,600.33 474.45,600.3 475.09,600.27 475.72,600.24 476.35,600.21 476.98,600.17 477.61,600.14 478.25,600.11 478.88,600.07 479.51,600.04 480.14,600 480.78,599.97 481.41,599.93 482.04,599.89 482.67,599.85 483.31,599.81 483.94,599.77 484.57,599.73 485.2,599.69 485.83,599.65 486.47,599.61 487.1,599.57 487.73,599.53 488.36,599.48 489,599.44 489.63,599.39 490.26,599.34 490.89,599.3 491.52,599.25 492.16,599.2 492.79,599.15 493.42,599.1 494.05,599.05 494.69,599 495.32,598.94 495.95,598.89 496.58,598.83 497.22,598.78 497.85,598.72 498.48,598.66 499.11,598.6 499.74,598.54 500.38,598.48 501.01,598.41 501.64,598.35 502.27,598.29 502.91,598.22 503.54,598.15 504.17,598.08 504.8,598.01 505.44,597.94 506.07,597.86 506.7,597.79 507.33,597.71 507.96,597.63 508.6,597.55 509.23,597.47 509.86,597.39 510.49,597.3 511.13,597.22 511.76,597.13 512.39,597.04 513.02,596.95 513.66,596.85 514.29,596.76 514.92,596.66 515.55,596.56 516.18,596.45 516.82,596.35 517.45,596.24 518.08,596.13 518.71,596.02 519.35,595.9 519.98,595.78 520.61,595.66 521.24,595.54 521.88,595.41 522.51,595.28 523.14,595.15 523.77,595.01 524.4,594.87 525.04,594.73 525.67,594.58 526.3,594.43 526.93,594.28 527.57,594.12 528.2,593.96 528.83,593.79 529.46,593.62 530.09,593.45 530.73,593.27 531.36,593.08 531.99,592.9 532.62,592.7 533.26,592.5 533.89,592.29 534.52,592.08 535.15,591.87 535.79,591.64 536.42,591.41 537.05,591.18 537.68,590.93 538.31,590.68 538.95,590.42 539.58,590.16 540.21,589.88 540.84,589.6 541.48,589.31 542.11,589.01 542.74,588.7 543.37,588.38 544.01,588.05 544.64,587.71 545.27,587.35 545.9,586.99 546.53,586.62 547.17,586.23 547.8,585.83 548.43,585.41 549.06,584.98 549.7,584.53 550.33,584.07 550.96,583.6 551.59,583.1 552.23,582.59 552.86,582.06 553.49,581.51 554.12,580.93 554.75,580.34 555.39,579.72 556.02,579.08 556.65,578.42 557.28,577.72 557.92,577 558.55,576.25 559.18,575.47 559.81,574.66 560.44,573.81 561.08,572.93 561.71,572.01 562.34,571.05 562.97,570.05 563.61,569 564.24,567.91 564.87,566.76 565.5,565.57 566.14,564.32 566.77,563.01 567.4,561.64 568.03,560.21 568.66,558.7 569.3,557.13 569.93,555.48 570.56,553.74 571.19,551.92 571.83,550.02 572.46,548.01 573.09,545.9 573.72,543.69 574.36,541.37 574.99,538.92 575.62,536.35 576.25,533.65 576.88,530.81 577.52,527.83 578.15,524.69 578.78,521.4 579.41,517.94 580.05,514.31 580.68,510.49 581.31,506.5 581.94,502.32 582.58,497.95 583.21,493.38 583.84,488.63 584.47,483.68 585.1,478.55 585.74,473.25 586.37,467.78 587,462.17 587.63,456.44 588.27,450.61 588.9,444.73 589.53,438.83 590.16,432.96 590.79,427.18 591.43,421.54 592.06,416.13 592.69,411 593.32,406.24 593.96,401.91 594.59,398.11 595.22,394.88 595.85,392.3 596.49,390.42 597.12,389.28 597.75,388.89 598.38,389.28 599.01,390.42 599.65,392.3 600.28,394.88 600.91,398.11 601.54,401.91 602.18,406.24 602.81,411 603.44,416.13 604.07,421.54 604.71,427.18 605.34,432.96 605.97,438.83 606.6,444.73 607.23,450.61 607.87,456.44 608.5,462.17 609.13,467.78 609.76,473.25 610.4,478.55 611.03,483.68 611.66,488.63 612.29,493.38 612.93,497.95 613.56,502.32 614.19,506.5 614.82,510.49 615.45,514.31 616.09,517.94 616.72,521.4 617.35,524.69 617.98,527.83 618.62,530.81 619.25,533.65 619.88,536.35 620.51,538.92 621.14,541.37 621.78,543.69 622.41,545.9 623.04,548.01 623.67,550.02 624.31,551.92 624.94,553.74 625.57,555.48 626.2,557.13 626.84,558.7 627.47,560.21 628.1,561.64 628.73,563.01 629.36,564.32 630,565.57 630.63,566.76 631.26,567.91 631.89,569 632.53,570.05 633.16,571.05 633.79,572.01 634.42,572.93 635.06,573.81 635.69,574.66 636.32,575.47 636.95,576.25 637.58,577 638.22,577.72 638.85,578.42 639.48,579.08 640.11,579.72 640.75,580.34 641.38,580.93 642.01,581.51 642.64,582.06 643.27,582.59 643.91,583.1 644.54,583.6 645.17,584.07 645.8,584.53 646.44,584.98 647.07,585.41 647.7,585.83 648.33,586.23 648.97,586.62 649.6,586.99 650.23,587.35 650.86,587.71 651.49,588.05 652.13,588.38 652.76,588.7 653.39,589.01 654.02,589.31 654.66,589.6 655.29,589.88 655.92,590.16 656.55,590.42 657.19,590.68 657.82,590.93 658.45,591.18 659.08,591.41 659.71,591.64 660.35,591.87 660.98,592.08 661.61,592.29 662.24,592.5 662.88,592.7 663.51,592.9 664.14,593.08 664.77,593.27 665.41,593.45 666.04,593.62 666.67,593.79 667.3,593.96 667.93,594.12 668.57,594.28 669.2,594.43 669.83,594.58 670.46,594.73 671.1,594.87 671.73,595.01 672.36,595.15 672.99,595.28 673.62,595.41 674.26,595.54 674.89,595.66 675.52,595.78 676.15,595.9 676.79,596.02 677.42,596.13 678.05,596.24 678.68,596.35 679.32,596.45 679.95,596.56 680.58,596.66 681.21,596.76 681.84,596.85 682.48,596.95 683.11,597.04 683.74,597.13 684.37,597.22 685.01,597.3 685.64,597.39 686.27,597.47 686.9,597.55 687.54,597.63 688.17,597.71 688.8,597.79 689.43,597.86 690.06,597.94 690.7,598.01 691.33,598.08 691.96,598.15 692.59,598.22 693.23,598.29 693.86,598.35 694.49,598.41 695.12,598.48 695.76,598.54 696.39,598.6 697.02,598.66 697.65,598.72 698.28,598.78 698.92,598.83 699.55,598.89 700.18,598.94 700.81,599 701.45,599.05 702.08,599.1 702.71,599.15 703.34,599.2 703.98,599.25 704.61,599.3 705.24,599.34 705.87,599.39 706.5,599.44 707.14,599.48 707.77,599.53 708.4,599.57 709.03,599.61 709.67,599.65 710.3,599.69 710.93,599.73 711.56,599.77 712.19,599.81 712.83,599.85 713.46,599.89 714.09,599.93 714.72,599.97 715.36,600 715.99,600.04 716.62,600.07 717.25,600.11 717.89,600.14 718.52,600.17 719.15,600.21 719.78,600.24 720.41,600.27 721.05,600.3 721.68,600.33 722.31,600.37 722.94,600.4 723.58,600.42 724.21,600.45 724.84,600.48 725.47,600.51 726.11,600.54 726.74,600.57 727.37,600.59 728,600.62 728.63,600.65 729.27,600.67 729.9,600.7 730.53,600.72 731.16,600.75 731.8,600.77 732.43,600.8 733.06,600.82 733.69,600.85 734.33,600.87 734.96,600.89 735.59,600.92 736.22,600.94 736.85,600.96 737.49,600.98 738.12,601 738.75,601.02 739.38,601.05 740.02,601.07 740.65,601.09 741.28,601.11 741.91,601.13 742.54,601.15 743.18,601.17 743.81,601.18 744.44,601.2 745.07,601.22 745.71,601.24 746.34,601.26 746.97,601.28 747.6,601.29 748.24,601.31 748.87,601.33 749.5,601.35" stroke="#33a14e"/><polyline points="446,600.25 446.63,600.22 447.26,600.19 447.9,600.17 448.53,600.14 449.16,600.11 449.79,600.09 450.43,600.06 451.06,600.03 451.69,600 452.32,599.97 452.96,599.94 453.59,599.91 454.22,599.88 454.85,599.85 455.48,599.82 456.12,599.79 456.75,599.76 457.38,599.73 458.01,599.69 458.65,599.66 459.28,599.63 459.91,599.59 460.54,599.56 461.17,599.52 461.81,599.49 462.44,599.45 463.07,599.42 463.7,599.38 464.34,599.34 464.97,599.3 465.6,599.26 466.23,599.23 466.87,599.19 467.5,599.15 468.13,599.11 468.76,599.06 469.39,599.02 470.03,598.98 470.66,598.94 471.29,598.89 471.92,598.85 472.56,598.8 473.19,598.76 473.82,598.71 474.45,598.67 475.09,598.62 475.72,598.57 476.35,598.52 476.98,598.47 477.61,598.42 478.25,598.37 478.88,598.32 479.51,598.26 480.14,598.21 480.78,598.16 481.41,598.1 482.04,598.04 482.67,597.99 483.31,597.93 483.94,597.87 484.57,597.81 485.2,597.75 485.83,597.69 486.47,597.62 487.1,597.56 487.73,597.49 488.36,597.43 489,597.36 489.63,597.29 490.26,597.22 490.89,597.15 491.52,597.08 492.16,597.01 492.79,596.93 493.42,596.86 494.05,596.78 494.69,596.7 495.32,596.62 495.95,596.54 496.58,596.46 497.22,596.37 497.85,596.29 498.48,596.2 499.11,596.11 499.74,596.02 500.38,595.93 501.01,595.83 501.64,595.74 502.27,595.64 502.91,595.54 503.54,595.44 504.17,595.34 504.8,595.23 505.44,595.13 506.07,595.02 506.7,594.9 507.33,594.79 507.96,594.68 508.6,594.56 509.23,594.44 509.86,594.31 510.49,594.19 511.13,594.06 511.76,593.93 512.39,593.8 513.02,593.66 513.66,593.52 514.29,593.38 514.92,593.23 515.55,593.09 516.18,592.94 516.82,592.78 517.45,592.62 518.08,592.46 518.71,592.3 519.35,592.13 519.98,591.96 520.61,591.78 521.24,591.6 521.88,591.41 522.51,591.23 523.14,591.03 523.77,590.84 524.4,590.63 525.04,590.43 525.67,590.21 526.3,590 526.93,589.78 527.57,589.55 528.2,589.31 528.83,589.08 529.46,588.83 530.09,588.58 530.73,588.32 531.36,588.06 531.99,587.79 532.62,587.51 533.26,587.22 533.89,586.93 534.52,586.63 535.15,586.32 535.79,586.01 536.42,585.68 537.05,585.35 537.68,585 538.31,584.65 538.95,584.29 539.58,583.92 540.21,583.53 540.84,583.14 541.48,582.73 542.11,582.32 542.74,581.89 543.37,581.44 544.01,580.99 544.64,580.52 545.27,580.04 545.9,579.54 546.53,579.03 547.17,578.5 547.8,577.95 548.43,577.39 549.06,576.81 549.7,576.21 550.33,575.6 550.96,574.96 551.59,574.3 552.23,573.62 552.86,572.92 553.49,572.19 554.12,571.44 554.75,570.67 555.39,569.87 556.02,569.04 556.65,568.18 557.28,567.29 557.92,566.38 558.55,565.42 559.18,564.44 559.81,563.42 560.44,562.36 561.08,561.27 561.71,560.14 562.34,558.96 562.97,557.74 563.61,556.48 564.24,555.17 564.87,553.81 565.5,552.4 566.14,550.94 566.77,549.43 567.4,547.85 568.03,546.22 568.66,544.53 569.3,542.77 569.93,540.95 570.56,539.06 571.19,537.09 571.83,535.06 572.46,532.95 573.09,530.76 573.72,528.5 574.36,526.15 574.99,523.72 575.62,521.2 576.25,518.6 576.88,515.91 577.52,513.13 578.15,510.27 578.78,507.32 579.41,504.28 580.05,501.15 580.68,497.94 581.31,494.66 581.94,491.29 582.58,487.86 583.21,484.36 583.84,480.81 584.47,477.21 585.1,473.58 585.74,469.93 586.37,466.26 587,462.61 587.63,458.98 588.27,455.39 588.9,451.87 589.53,448.44 590.16,445.13 590.79,441.95 591.43,438.93 592.06,436.1 592.69,433.49 593.32,431.11 593.96,429 594.59,427.17 595.22,425.65 595.85,424.44 596.49,423.57 597.12,423.05 597.75,422.87 598.38,423.05 599.01,423.57 599.65,424.44 600.28,425.65 600.91,427.17 601.54,429 602.18,431.11 602.81,433.49 603.44,436.1 604.07,438.93 604.71,441.95 605.34,445.13 605.97,448.44 606.6,451.87 607.23,455.39 607.87,458.98 608.5,462.61 609.13,466.26 609.76,469.93 610.4,473.58 611.03,477.21 611.66,480.81 612.29,484.36 612.93,487.86 613.56,491.29 614.19,494.66 614.82,497.94 615.45,501.15 616.09,504.28 616.72,507.32 617.35,510.27 617.98,513.13 618.62,515.91 619.25,518.6 619.88,521.2 620.51,523.72 621.14,526.15 621.78,528.5 622.41,530.76 623.04,532.95 623.67,535.06 624.31,537.09 624.94,539.06 625.57,540.95 626.2,542.77 626.84,544.53 627.47,546.22 628.1,547.85 628.73,549.43 629.36,550.94 630,552.4 630.63,553.81 631.26,555.17 631.89,556.48 632.53,557.74 633.16,558.96 633.79,560.14 634.42,561.27 635.06,562.36 635.69,563.42 636.32,564.44 636.95,565.42 637.58,566.38 638.22,567.29 638.85,568.18 639.48,569.04 640.11,569.87 640.75,570.67 641.38,571.44 642.01,572.19 642.64,572.92 643.27,573.62 643.91,574.3 644.54,574.96 645.17,575.6 645.8,576.21 646.44,576.81 647.07,577.39 647.7,577.95 648.33,578.5 648.97,579.03 649.6,579.54 650.23,580.04 650.86,580.52 651.49,580.99 652.13,581.44 652.76,581.89 653.39,582.32 654.02,582.73 654.66,583.14 655.29,583.53 655.92,583.92 656.55,584.29 657.19,584.65 657.82,585 658.45,585.35 659.08,585.68 659.71,586.01 660.35,586.32 660.98,586.63 661.61,586.93 662.24,587.22 662.88,587.51 663.51,587.79 664.14,588.06 664.77,588.32 665.41,588.58 666.04,588.83 666.67,589.08 667.3,589.31 667.93,589.55 668.57,589.78 669.2,590 669.83,590.21 670.46,590.43 671.1,590.63 671.73,590.84 672.36,591.03 672.99,591.23 673.62,591.41 674.26,591.6 674.89,591.78 675.52,591.96 676.15,592.13 676.79,592.3 677.42,592.46 678.05,592.62 678.68,592.78 679.32,592.94 679.95,593.09 680.58,593.23 681.21,593.38 681.84,593.52 682.48,593.66 683.11,593.8 683.74,593.93 684.37,594.06 685.01,594.19 685.64,594.31 686.27,594.44 686.9,594.56 687.54,594.68 688.17,594.79 688.8,594.9 689.43,595.02 690.06,595.13 690.7,595.23 691.33,595.34 691.96,595.44 692.59,595.54 693.23,595.64 693.86,595.74 694.49,595.83 695.12,595.93 695.76,596.02 696.39,596.11 697.02,596.2 697.65,596.29 698.28,596.37 698.92,596.46 699.55,596.54 700.18,596.62 700.81,596.7 701.45,596.78 702.08,596.86 702.71,596.93 703.34,597.01 703.98,597.08 704.61,597.15 705.24,597.22 705.87,597.29 706.5,597.36 707.14,597.43 707.77,597.49 708.4,597.56 709.03,597.62 709.67,597.69 710.3,597.75 710.93,597.81 711.56,597.87 712.19,597.93 712.83,597.99 713.46,598.04 714.09,598.1 714.72,598.16 715.36,598.21 715.99,598.26 716.62,598.32 717.25,598.37 717.89,598.42 718.52,598.47 719.15,598.52 719.78,598.57 720.41,598.62 721.05,598.67 721.68,598.71 722.31,598.76 722.94,598.8 723.58,598.85 724.21,598.89 724.84,598.94 725.47,598.98 726.11,599.02 726.74,599.06 727.37,599.11 728,599.15 728.63,599.19 729.27,599.23 729.9,599.26 730.53,599.3 731.16,599.34 731.8,599.38 732.43,599.42 733.06,599.45 733.69,599.49 734.33,599.52 734.96,599.56 735.59,599.59 736.22,599.63 736.85,599.66 737.49,599.69 738.12,599.73 738.75,599.76 739.38,599.79 740.02,599.82 740.65,599.85 741.28,599.88 741.91,599.91 742.54,599.94 743.18,599.97 743.81,600 744.44,600.03 745.07,600.06 745.71,600.09 746.34,600.11 746.97,600.14 747.6,600.17 748.24,600.19 748.87,600.22 749.5,600.25" stroke="#e96ca1"/><polyline points="446,602.38 446.63,602.37 447.26,602.36 447.9,602.36 448.53,602.35 449.16,602.34 449.79,602.33 450.43,602.32 451.06,602.31 451.69,602.3 452.32,602.29 452.96,602.28 453.59,602.27 454.22,602.26 454.85,602.25 455.48,602.24 456.12,602.23 456.75,602.22 457.38,602.21 458.01,602.2 458.65,602.19 459.28,602.18 459.91,602.17 460.54,602.16 461.17,602.14 461.81,602.13 462.44,602.12 463.07,602.11 463.7,602.1 464.34,602.08 464.97,602.07 465.6,602.06 466.23,602.05 466.87,602.03 467.5,602.02 468.13,602.01 468.76,601.99 469.39,601.98 470.03,601.97 470.66,601.95 471.29,601.94 471.92,601.92 472.56,601.91 473.19,601.89 473.82,601.88 474.45,601.86 475.09,601.85 475.72,601.83 476.35,601.81 476.98,601.8 477.61,601.78 478.25,601.76 478.88,601.75 479.51,601.73 480.14,601.71 480.78,601.69 481.41,601.67 482.04,601.66 482.67,601.64 483.31,601.62 483.94,601.6 484.57,601.58 485.2,601.56 485.83,601.54 486.47,601.52 487.1,601.5 487.73,601.47 488.36,601.45 489,601.43 489.63,601.41 490.26,601.38 490.89,601.36 491.52,601.34 492.16,601.31 492.79,601.29 493.42,601.26 494.05,601.24 494.69,601.21 495.32,601.18 495.95,601.15 496.58,601.13 497.22,601.1 497.85,601.07 498.48,601.04 499.11,601.01 499.74,600.98 500.38,600.95 501.01,600.92 501.64,600.89 502.27,600.85 502.91,600.82 503.54,600.79 504.17,600.75 504.8,600.72 505.44,600.68 506.07,600.64 506.7,600.6 507.33,600.57 507.96,600.53 508.6,600.49 509.23,600.45 509.86,600.4 510.49,600.36 511.13,600.32 511.76,600.27 512.39,600.23 513.02,600.18 513.66,600.13 514.29,600.08 514.92,600.03 515.55,599.98 516.18,599.93 516.82,599.88 517.45,599.82 518.08,599.77 518.71,599.71 519.35,599.65 519.98,599.59 520.61,599.53 521.24,599.47 521.88,599.41 522.51,599.34 523.14,599.27 523.77,599.21 524.4,599.14 525.04,599.06 525.67,598.99 526.3,598.91 526.93,598.83 527.57,598.75 528.2,598.67 528.83,598.59 529.46,598.5 530.09,598.41 530.73,598.32 531.36,598.23 531.99,598.13 532.62,598.03 533.26,597.93 533.89,597.83 534.52,597.72 535.15,597.61 535.79,597.49 536.42,597.38 537.05,597.25 537.68,597.13 538.31,597 538.95,596.87 539.58,596.73 540.21,596.59 540.84,596.45 541.48,596.3 542.11,596.14 542.74,595.98 543.37,595.82 544.01,595.65 544.64,595.47 545.27,595.29 545.9,595.11 546.53,594.91 547.17,594.71 547.8,594.5 548.43,594.29 549.06,594.06 549.7,593.83 550.33,593.59 550.96,593.34 551.59,593.09 552.23,592.82 552.86,592.54 553.49,592.25 554.12,591.95 554.75,591.64 555.39,591.31 556.02,590.97 556.65,590.62 557.28,590.26 557.92,589.87 558.55,589.48 559.18,589.06 559.81,588.63 560.44,588.17 561.08,587.7 561.71,587.21 562.34,586.69 562.97,586.15 563.61,585.58 564.24,584.99 564.87,584.36 565.5,583.71 566.14,583.02 566.77,582.3 567.4,581.55 568.03,580.75 568.66,579.91 569.3,579.03 569.93,578.1 570.56,577.12 571.19,576.09 571.83,575 572.46,573.85 573.09,572.64 573.72,571.35 574.36,570 574.99,568.56 575.62,567.03 576.25,565.42 576.88,563.71 577.52,561.9 578.15,559.98 578.78,557.94 579.41,555.78 580.05,553.49 580.68,551.06 581.31,548.48 581.94,545.75 582.58,542.85 583.21,539.79 583.84,536.55 584.47,533.13 585.1,529.53 585.74,525.75 586.37,521.78 587,517.63 587.63,513.32 588.27,508.85 588.9,504.25 589.53,499.55 590.16,494.77 590.79,489.98 591.43,485.21 592.06,480.54 592.69,476.04 593.32,471.79 593.96,467.86 594.59,464.36 595.22,461.35 595.85,458.92 596.49,457.13 597.12,456.04 597.75,455.67 598.38,456.04 599.01,457.13 599.65,458.92 600.28,461.35 600.91,464.36 601.54,467.86 602.18,471.79 602.81,476.04 603.44,480.54 604.07,485.21 604.71,489.98 605.34,494.77 605.97,499.55 606.6,504.25 607.23,508.85 607.87,513.32 608.5,517.63 609.13,521.78 609.76,525.75 610.4,529.53 611.03,533.13 611.66,536.55 612.29,539.79 612.93,542.85 613.56,545.75 614.19,548.48 614.82,551.06 615.45,553.49 616.09,555.78 616.72,557.94 617.35,559.98 617.98,561.9 618.62,563.71 619.25,565.42 619.88,567.03 620.51,568.56 621.14,570 621.78,571.35 622.41,572.64 623.04,573.85 623.67,575 624.31,576.09 624.94,577.12 625.57,578.1 626.2,579.03 626.84,579.91 627.47,580.75 628.1,581.55 628.73,582.3 629.36,583.02 630,583.71 630.63,584.36 631.26,584.99 631.89,585.58 632.53,586.15 633.16,586.69 633.79,587.21 634.42,587.7 635.06,588.17 635.69,588.63 636.32,589.06 636.95,589.48 637.58,589.87 638.22,590.26 638.85,590.62 639.48,590.97 640.11,591.31 640.75,591.64 641.38,591.95 642.01,592.25 642.64,592.54 643.27,592.82 643.91,593.09 644.54,593.34 645.17,593.59 645.8,593.83 646.44,594.06 647.07,594.29 647.7,594.5 648.33,594.71 648.97,594.91 649.6,595.11 650.23,595.29 650.86,595.47 651.49,595.65 652.13,595.82 652.76,595.98 653.39,596.14 654.02,596.3 654.66,596.45 655.29,596.59 655.92,596.73 656.55,596.87 657.19,597 657.82,597.13 658.45,597.25 659.08,597.38 659.71,597.49 660.35,597.61 660.98,597.72 661.61,597.83 662.24,597.93 662.88,598.03 663.51,598.13 664.14,598.23 664.77,598.32 665.41,598.41 666.04,598.5 666.67,598.59 667.3,598.67 667.93,598.75 668.57,598.83 669.2,598.91 669.83,598.99 670.46,599.06 671.1,599.14 671.73,599.21 672.36,599.27 672.99,599.34 673.62,599.41 674.26,599.47 674.89,599.53 675.52,599.59 676.15,599.65 676.79,599.71 677.42,599.77 678.05,599.82 678.68,599.88 679.32,599.93 679.95,599.98 680.58,600.03 681.21,600.08 681.84,600.13 682.48,600.18 683.11,600.23 683.74,600.27 684.37,600.32 685.01,600.36 685.64,600.4 686.27,600.45 686.9,600.49 687.54,600.53 688.17,600.57 688.8,600.6 689.43,600.64 690.06,600.68 690.7,600.72 691.33,600.75 691.96,600.79 692.59,600.82 693.23,600.85 693.86,600.89 694.49,600.92 695.12,600.95 695.76,600.98 696.39,601.01 697.02,601.04 697.65,601.07 698.28,601.1 698.92,601.13 699.55,601.15 700.18,601.18 700.81,601.21 701.45,601.24 702.08,601.26 702.71,601.29 703.34,601.31 703.98,601.34 704.61,601.36 705.24,601.38 705.87,601.41 706.5,601.43 707.14,601.45 707.77,601.47 708.4,601.5 709.03,601.52 709.67,601.54 710.3,601.56 710.93,601.58 711.56,601.6 712.19,601.62 712.83,601.64 713.46,601.66 714.09,601.67 714.72,601.69 715.36,601.71 715.99,601.73 716.62,601.75 717.25,601.76 717.89,601.78 718.52,601.8 719.15,601.81 719.78,601.83 720.41,601.85 721.05,601.86 721.68,601.88 722.31,601.89 722.94,601.91 723.58,601.92 724.21,601.94 724.84,601.95 725.47,601.97 726.11,601.98 726.74,601.99 727.37,602.01 728,602.02 728.63,602.03 729.27,602.05 729.9,602.06 730.53,602.07 731.16,602.08 731.8,602.1 732.43,602.11 733.06,602.12 733.69,602.13 734.33,602.14 734.96,602.16 735.59,602.17 736.22,602.18 736.85,602.19 737.49,602.2 738.12,602.21 738.75,602.22 739.38,602.23 740.02,602.24 740.65,602.25 741.28,602.26 741.91,602.27 742.54,602.28 743.18,602.29 743.81,602.3 744.44,602.31 745.07,602.32 745.71,602.33 746.34,602.34 746.97,602.35 747.6,602.36 748.24,602.36 748.87,602.37 749.5,602.38" stroke="#305aaa"/></g>
<text x="471.29" y="622.5" class="tick" text-anchor="middle">-1</text><text x="534.52" y="622.5" class="tick" text-anchor="middle">-0.5</text><text x="597.75" y="622.5" class="tick" text-anchor="middle">0</text><text x="660.98" y="622.5" class="tick" text-anchor="middle">0.5</text><text x="724.21" y="622.5" class="tick" text-anchor="middle">1</text><text x="441.2" y="387.1" class="tick" text-anchor="end">1.5</text><text x="441.2" y="460.97" class="tick" text-anchor="end">1</text><text x="441.2" y="534.83" class="tick" text-anchor="end">0.5</text><text x="441.2" y="608.7" class="tick" text-anchor="end">0</text>
<g transform="translate(412.8,520.2) rotate(-90)" fill="#505050" stroke="#505050" stroke-width="0.25"><text transform="translate(0,0) scale(1.08,1)" class="ser" font-style="italic" font-size="12.8">σ</text><text x="7.6" y="3.4" class="ser" font-size="8.4">1</text><text transform="translate(11.6,3.5) scale(1.5,1)" class="ser" font-size="22" stroke-width="0">/</text><text transform="translate(21.4,0) scale(1.2,1)" class="ser" font-style="italic" font-size="12.8">σ</text><text x="31.2" y="3" class="ser" font-style="italic" font-size="10.6" letter-spacing="2.1">Max</text></g>
<text x="569.1" y="635.4" font-family="DejaVu Serif,Liberation Serif,serif" font-size="13.7" fill="#3a3a3a">ω</text><text x="580.9" y="641.7" font-size="9.8" fill="#3a3a3a">a</text><text x="586.7" y="635.6" font-size="18.2" fill="#3a3a3a">–</text><text x="596.4" y="635.4" font-family="DejaVu Serif,Liberation Serif,serif" font-size="13.7" fill="#3a3a3a">ω</text><text x="613.4" y="635.5" font-size="17.3" fill="#3a3a3a">(arb.units)</text>
<g transform="translate(291.7,41.2)"><text transform="translate(164.6,445.9) scale(0.9,1)" class="b" font-size="22" fill="#ea6aa5">γ</text><text x="175.2" y="450.9" class="b" font-size="15" fill="#ea6aa5">2</text><text transform="translate(176.4,445.4) scale(1,1.5)" class="b" font-size="13" letter-spacing="-0.4" fill="#ea6aa5">''</text><text x="190" y="445.5" class="b" font-size="13" fill="#1a1a1a">&gt;</text><text transform="translate(207,445.9) scale(0.9,1)" class="b" font-size="22" fill="#36a046">γ</text><text x="217.4" y="450.9" class="b" font-size="15" fill="#36a046">2</text><text transform="translate(217.3,445.4) scale(1,1.5)" class="b" font-size="13" letter-spacing="-0.4" fill="#36a046">'</text><text x="232.7" y="445.5" class="b" font-size="13" fill="#1a1a1a">&gt;</text><text transform="translate(252.9,444.2) scale(0.9,1)" class="b" font-size="22" fill="#2f55a4">γ</text><text x="262.8" y="449.3" class="b" font-size="15" fill="#2f55a4">2</text></g>
<text x="468.7" y="412.3" class="b" font-size="12.8" fill="#222">Super multipole</text>
<path d="M567.6,405 L593.4,391" stroke="#222" stroke-width="1" fill="none"/>
<polygon points="597.7,383.9 598.93,387.2 602.46,387.35 599.7,389.55 600.64,392.95 597.7,391 594.76,392.95 595.7,389.55 592.94,387.35 596.47,387.2" fill="#1a1a1a"/>
<text x="620.4" y="442.7" class="b" font-size="12.8" fill="#222">Single-channel limit</text>
</svg>
</body></html>
